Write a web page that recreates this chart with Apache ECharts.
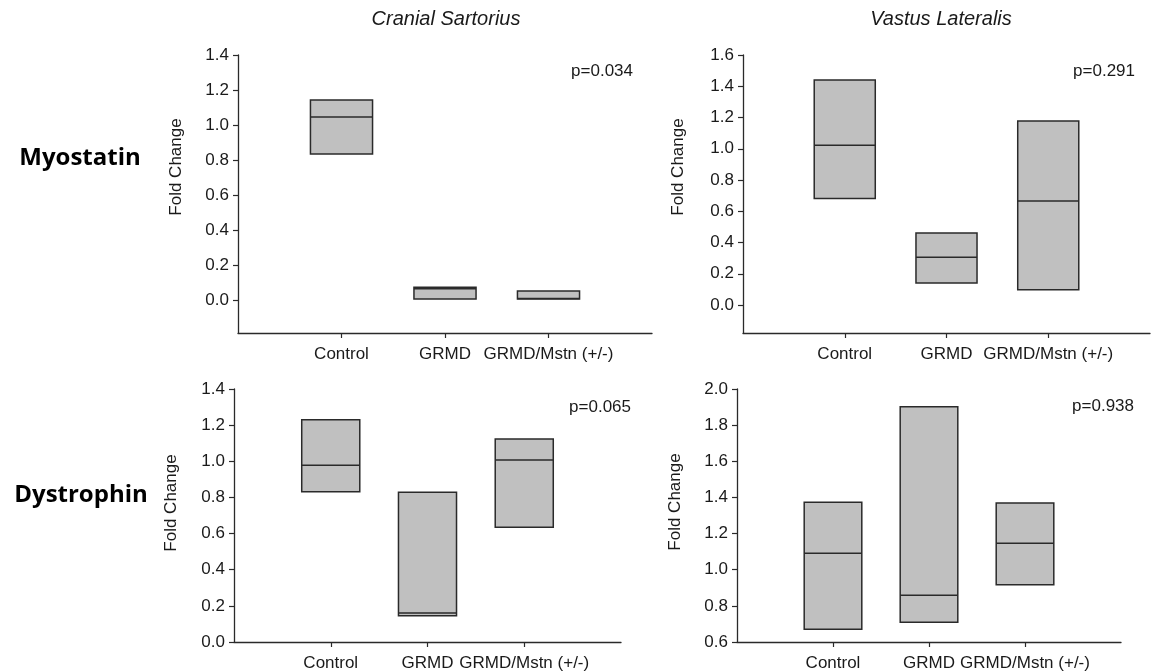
<!DOCTYPE html>
<html>
<head>
<meta charset="utf-8">
<script src="https://cdn.jsdelivr.net/npm/echarts@6/dist/echarts.min.js"></script>
<style>
html,body{margin:0;padding:0;background:#fff;}
#chart{width:1153px;height:672px;}
</style>
</head>
<body>
<div id="chart"></div>
<script>
// ---- data ----
const groups = ['Control', 'GRMD', 'GRMD/Mstn (+/-)'];
const columnTitles = ['Cranial Sartorius', 'Vastus Lateralis'];
const rowTitles = ['Myostatin', 'Dystrophin'];
const pValues = ['p=0.034', 'p=0.291', 'p=0.065', 'p=0.938'];
const yAxisTitle = 'Fold Change';

// Cranial Sartorius - Myostatin
const csMyoLow = [0.836, 0.010, 0.010];
const csMyoMedian = [1.047, 0.068, 0.013];
const csMyoHigh = [1.144, 0.076, 0.055];
// Vastus Lateralis - Myostatin
const vlMyoLow = [0.681, 0.141, 0.098];
const vlMyoMedian = [1.022, 0.305, 0.666];
const vlMyoHigh = [1.440, 0.461, 1.178];
// Cranial Sartorius - Dystrophin
const csDysLow = [0.831, 0.145, 0.635];
const csDysMedian = [0.978, 0.161, 1.007];
const csDysHigh = [1.230, 0.829, 1.124];
// Vastus Lateralis - Dystrophin
const vlDysLow = [0.671, 0.709, 0.917];
const vlDysMedian = [1.091, 0.859, 1.146];
const vlDysHigh = [1.373, 1.902, 1.369];

// tick labels
const ticksCsMyo = [0.0, 0.2, 0.4, 0.6, 0.8, 1.0, 1.2, 1.4];
const ticksVlMyo = [0.0, 0.2, 0.4, 0.6, 0.8, 1.0, 1.2, 1.4, 1.6];
const ticksCsDys = [0.0, 0.2, 0.4, 0.6, 0.8, 1.0, 1.2, 1.4];
const ticksVlDys = [0.6, 0.8, 1.0, 1.2, 1.4, 1.6, 1.8, 2.0];

// ---- layout / style ----
const FONT = '"Liberation Sans", Arial, sans-serif';
const TXT = '#1a1a1a';
const LINE = '#2a2a2a';
const FS = 17;
const panels = [
  {grid: {left: 238, top: 55, width: 414, height: 278}, min: -0.184, max: 1.4, ticks: ticksCsMyo, low: csMyoLow, med: csMyoMedian, high: csMyoHigh},
  {grid: {left: 743, top: 55, width: 414, height: 278}, min: -0.179, max: 1.6, ticks: ticksVlMyo, low: vlMyoLow, med: vlMyoMedian, high: vlMyoHigh},
  {grid: {left: 234, top: 389, width: 387, height: 258}, min: 0.0, max: 1.4, ticks: ticksCsDys, low: csDysLow, med: csDysMedian, high: csDysHigh},
  {grid: {left: 737, top: 389, width: 384, height: 258}, min: 0.6, max: 2.0, ticks: ticksVlDys, low: vlDysLow, med: vlDysMedian, high: vlDysHigh}
];

const paddedCats = [''].concat(groups, ['']);

function renderBox(params, api) {
  const x = api.value(0);
  const pLow = api.coord([x, api.value(1)]);
  const pMed = api.coord([x, api.value(2)]);
  const pHigh = api.coord([x, api.value(3)]);
  const w = api.size([1, 0])[0] * 0.6;
  return {
    type: 'group',
    children: [
      {type: 'rect', shape: {x: pLow[0] - w / 2, y: pHigh[1], width: w, height: pLow[1] - pHigh[1]},
       style: {fill: '#c0c0c0', stroke: LINE, lineWidth: 1.5}},
      {type: 'line', shape: {x1: pLow[0] - w / 2, y1: pMed[1], x2: pLow[0] + w / 2, y2: pMed[1]},
       style: {stroke: LINE, lineWidth: 1.5}}
    ]
  };
}

const option = {
  backgroundColor: '#fff',
  animation: false,
  grid: panels.map(p => Object.assign({containLabel: false}, p.grid)),
  xAxis: panels.map((p, i) => ({
    type: 'category', gridIndex: i, data: paddedCats, boundaryGap: false,
    axisLine: {show: true, onZero: false, lineStyle: {color: LINE, width: 1.3}},
    axisTick: {show: true, length: 5, inside: false, interval: (idx) => idx > 0 && idx < paddedCats.length - 1, lineStyle: {color: LINE, width: 1.2}},
    axisLabel: {interval: 0, color: TXT, fontFamily: FONT, fontSize: FS, margin: 13},
    splitLine: {show: false}
  })),
  yAxis: panels.map((p, i) => ({
    type: 'value', gridIndex: i, min: p.min, max: p.max,
    axisLine: {show: true, lineStyle: {color: LINE, width: 1.3}},
    axisTick: {show: true, length: 5, customValues: p.ticks, lineStyle: {color: LINE, width: 1.2}},
    axisLabel: {customValues: p.ticks, color: TXT, fontFamily: FONT, fontSize: FS, margin: 9,
      formatter: v => Number(v).toFixed(1)},
    splitLine: {show: false}
  })),
  series: panels.map((p, i) => ({
    type: 'custom', xAxisIndex: i, yAxisIndex: i,
    renderItem: renderBox,
    encode: {x: 0, y: [1, 2, 3]},
    data: groups.map((g, k) => [k + 1, p.low[k], p.med[k], p.high[k]])
  })),
  graphic: [
    {type: 'text', x: 446, y: 19, style: {text: columnTitles[0], font: 'italic 20px ' + FONT, fill: TXT, align: 'center', verticalAlign: 'middle'}},
    {type: 'text', x: 941, y: 19, style: {text: columnTitles[1], font: 'italic 20px ' + FONT, fill: TXT, align: 'center', verticalAlign: 'middle'}},
    {type: 'text', x: 80, y: 158, style: {text: rowTitles[0], font: 'bold 24px "Open Sans", sans-serif', fill: '#000', align: 'center', verticalAlign: 'middle'}},
    {type: 'text', x: 81, y: 495, style: {text: rowTitles[1], font: 'bold 24px "Open Sans", sans-serif', fill: '#000', align: 'center', verticalAlign: 'middle'}},
    {type: 'text', x: 176, y: 167, rotation: Math.PI / 2, style: {text: yAxisTitle, font: FS + 'px ' + FONT, fill: TXT, align: 'center', verticalAlign: 'middle'}},
    {type: 'text', x: 678, y: 167, rotation: Math.PI / 2, style: {text: yAxisTitle, font: FS + 'px ' + FONT, fill: TXT, align: 'center', verticalAlign: 'middle'}},
    {type: 'text', x: 171, y: 503, rotation: Math.PI / 2, style: {text: yAxisTitle, font: FS + 'px ' + FONT, fill: TXT, align: 'center', verticalAlign: 'middle'}},
    {type: 'text', x: 675, y: 502, rotation: Math.PI / 2, style: {text: yAxisTitle, font: FS + 'px ' + FONT, fill: TXT, align: 'center', verticalAlign: 'middle'}},
    {type: 'text', x: 633, y: 71, style: {text: pValues[0], font: FS + 'px ' + FONT, fill: TXT, align: 'right', verticalAlign: 'middle'}},
    {type: 'text', x: 1135, y: 71, style: {text: pValues[1], font: FS + 'px ' + FONT, fill: TXT, align: 'right', verticalAlign: 'middle'}},
    {type: 'text', x: 631, y: 407, style: {text: pValues[2], font: FS + 'px ' + FONT, fill: TXT, align: 'right', verticalAlign: 'middle'}},
    {type: 'text', x: 1134, y: 406, style: {text: pValues[3], font: FS + 'px ' + FONT, fill: TXT, align: 'right', verticalAlign: 'middle'}}
  ]
};

const chart = echarts.init(document.getElementById('chart'), null, {renderer: 'canvas'});
chart.setOption(option);
</script>
</body>
</html>
